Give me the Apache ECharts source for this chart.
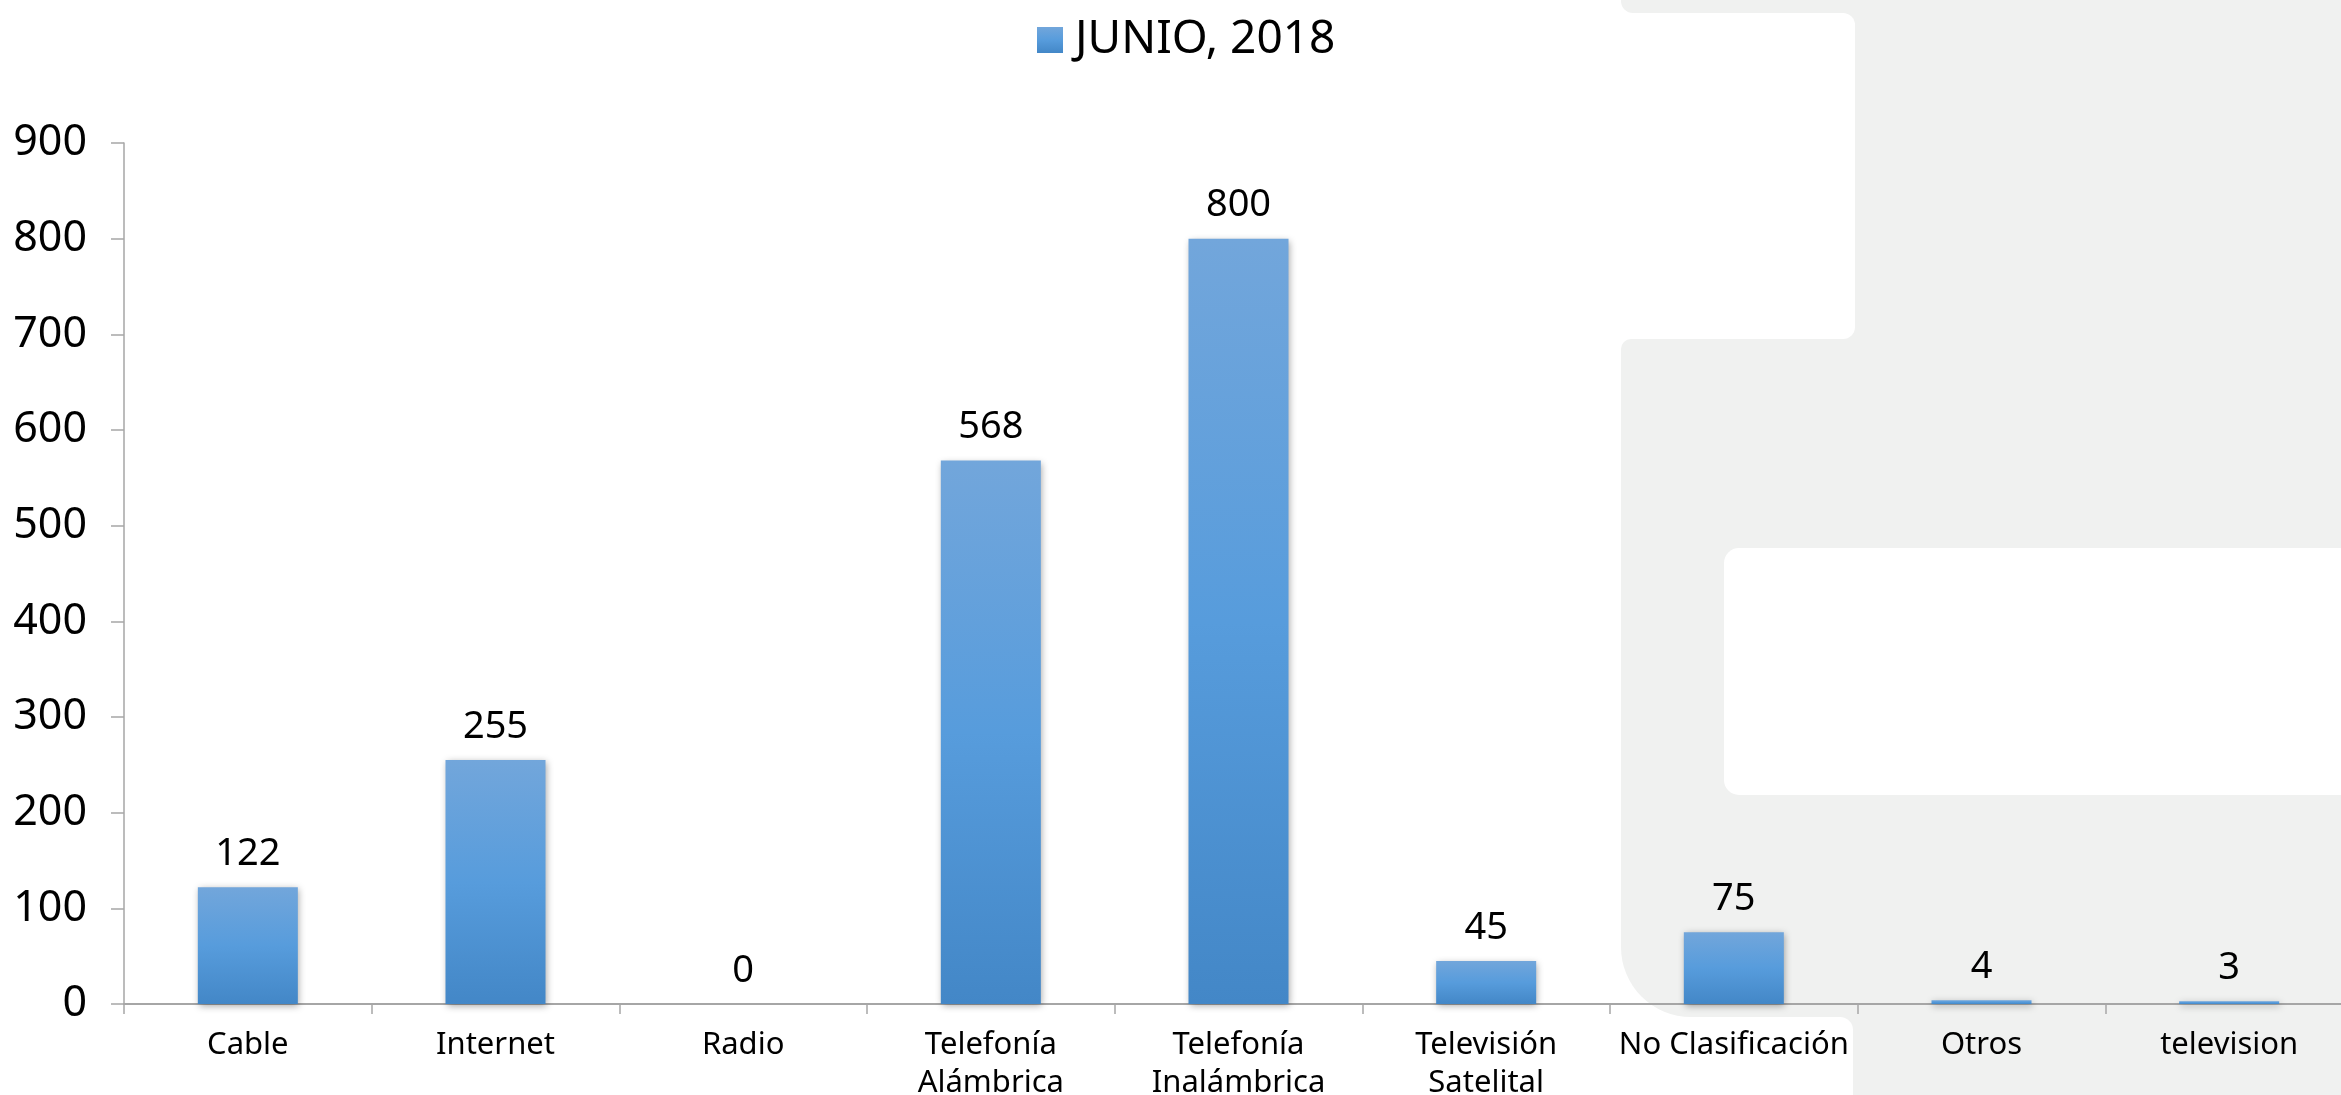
<!DOCTYPE html>
<html>
<head>
<meta charset="utf-8">
<script src="https://cdn.jsdelivr.net/npm/echarts@6/dist/echarts.min.js"></script>
<style>
html,body{margin:0;padding:0;background:#fff;}
#chart{width:2341px;height:1095px;}
</style>
</head>
<body>
<div id="chart"></div>
<script>
const categories = ['Cable', 'Internet', 'Radio', 'Telefonía\nAlámbrica', 'Telefonía\nInalámbrica', 'Televisión\nSatelital', 'No Clasificación', 'Otros', 'television'];
const seriesName = 'JUNIO, 2018';
const values = [122, 255, 0, 568, 800, 45, 75, 4, 3];
const yTicks = { min: 0, max: 900, interval: 100 };

const FONT = 'Noto Sans';
const GRAY = '#F0F1F0';
const barGradient = new echarts.graphic.LinearGradient(0, 0, 0, 1, [
  { offset: 0, color: '#72A6DB' },
  { offset: 0.5, color: '#579CDC' },
  { offset: 1, color: '#4387C7' }
]);

function rect(x, y, w, h, r, fill, z) {
  return { type: 'rect', silent: true, z: z, shape: { x: x, y: y, width: w, height: h, r: r }, style: { fill: fill } };
}

const chart = echarts.init(document.getElementById('chart'), null, { renderer: 'canvas' });
chart.setOption({
  backgroundColor: '#ffffff',
  animation: false,
  textStyle: { fontFamily: FONT },
  graphic: [
    rect(1855, -30, 600, 1200, 0, GRAY, -30),
    rect(1820, -30, 60, 420, 0, GRAY, -29),
    rect(1820, 990, 60, 120, 0, GRAY, -29),
    rect(1700, 13, 155, 326, [0, 12, 12, 0], '#ffffff', -28),
    rect(1621, -30, 800, 43, [0, 0, 0, 12], GRAY, -27),
    rect(1621, 339, 800, 678, [10, 0, 0, 70], GRAY, -27),
    rect(1724, 548, 700, 247, [15, 0, 0, 15], '#ffffff', -26),
    rect(1500, 1017, 353, 100, [0, 13, 0, 0], '#ffffff', -26)
  ],
  legend: {
    data: [seriesName],
    top: 12,
    left: 1032,
    icon: 'rect',
    itemWidth: 26,
    itemHeight: 26,
    textStyle: { fontSize: 46, color: '#000', fontFamily: FONT, padding: [0, 0, 0, 7] }
  },
  grid: { left: 124, top: 143, width: 2229, height: 861, containLabel: false, outerBoundsMode: 'none' },
  xAxis: {
    type: 'category',
    data: categories,
    axisLine: { lineStyle: { color: '#A6A6A6', width: 2 } },
    axisTick: { show: true, length: 10, alignWithLabel: false, lineStyle: { color: '#A6A6A6', width: 1.5 } },
    axisLabel: { interval: 0, fontSize: 31, color: '#000', margin: 22, lineHeight: 38, fontFamily: FONT }
  },
  yAxis: {
    type: 'value',
    min: yTicks.min,
    max: yTicks.max,
    interval: yTicks.interval,
    axisLine: { show: true, lineStyle: { color: '#A6A6A6', width: 1.5 } },
    axisTick: { show: true, length: 13, lineStyle: { color: '#A6A6A6', width: 1.5 } },
    splitLine: { show: false },
    axisLabel: { fontSize: 43, color: '#000', margin: 37, fontFamily: FONT }
  },
  series: [{
    name: seriesName,
    type: 'bar',
    data: values,
    barWidth: 100,
    itemStyle: {
      color: barGradient,
      shadowBlur: 7,
      shadowColor: 'rgba(0,0,0,0.35)',
      shadowOffsetX: 1,
      shadowOffsetY: 2
    },
    label: { show: true, position: 'top', distance: 14, fontSize: 38, color: '#000', fontFamily: FONT }
  }]
});
</script>
</body>
</html>
